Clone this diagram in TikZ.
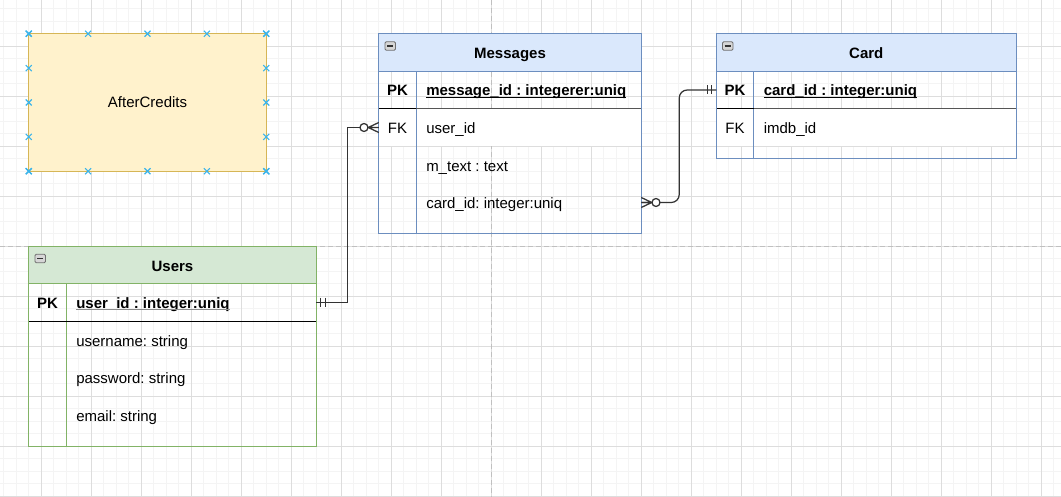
\documentclass[tikz,border=0pt]{standalone}
\usepackage{fontspec}
\setmainfont{Liberation Sans}
\usetikzlibrary{calc}
\frenchspacing

\definecolor{blueFill}{HTML}{DAE8FC}
\definecolor{blueLine}{HTML}{6C8EBF}
\definecolor{greenFill}{HTML}{D5E8D4}
\definecolor{greenLine}{HTML}{82B366}
\definecolor{yellowFill}{HTML}{FFF2CC}
\definecolor{yellowLine}{HTML}{D6B656}
\definecolor{gridMinor}{HTML}{F4F4F4}
\definecolor{gridMajor}{HTML}{DDDDDD}
\definecolor{pageLine}{HTML}{C0C0C0}
\definecolor{connColor}{HTML}{333333}
\definecolor{pkGray}{HTML}{555555}
\definecolor{pointBlue}{HTML}{3AB4EA}
\definecolor{iconFill}{HTML}{D6D6D6}
\definecolor{iconLine}{HTML}{707070}

% blue connection-point cross
\newcommand\cpx[1]{\draw[xpoint] (#1) ++(-3,-3) -- ++(6,6) (#1) ++(-3,3) -- ++(6,-6);}

\begin{document}
\begin{tikzpicture}[x=1pt,y=-1pt,
  txt/.style={font=\fontsize{15pt}{18pt}\selectfont, inner sep=0pt, outer sep=0pt},
  txtb/.style={font=\fontsize{15pt}{18pt}\selectfont\bfseries, inner sep=0pt, outer sep=0pt},
  rowbox/.style={rectangle, inner sep=0pt, outer sep=0pt, anchor=north west, minimum height=37.5pt},
  frame/.style={line width=1.25pt},
  title/.style={txtb, anchor=base},
  keytxt/.style={txt, anchor=base},
  pkkey/.style={txtb, anchor=base},
  fieldtxt/.style={txt, anchor=base west},
  pkfield/.style={txtb, anchor=base west},
  gminor/.style={draw=gridMinor, line width=1pt},
  gmajor/.style={draw=gridMajor, line width=1pt},
  pagebreak/.style={draw=pageLine, line width=1.25pt, dash pattern=on 5pt off 3pt},
  conn/.style={draw=connColor, line width=1.25pt},
  xpoint/.style={draw=pointBlue, line width=1.2pt},
  iconbox/.style={rectangle, draw=iconLine, fill=iconFill, rounded corners=1.2pt, line width=0.8pt,
    minimum width=10.5pt, minimum height=8.5pt, inner sep=0pt},
  iconbar/.style={draw=black!80, line width=1.3pt},
]
\useasboundingbox (0,0) rectangle (1061,497);
\fill[white] (0,0) rectangle (1061,497);

% background grid
\foreach \i in {0,...,84} \draw[gminor] ({3.75+12.5*\i},0) -- ({3.75+12.5*\i},497);
\foreach \i in {1,...,40} \draw[gminor] (0,{-3.75+12.5*\i}) -- (1061,{-3.75+12.5*\i});
\foreach \i in {0,...,20} \draw[gmajor] ({41.25+50*\i},0) -- ({41.25+50*\i},497);
\foreach \i in {0,...,9} \draw[gmajor] (0,{46.25+50*\i}) -- (1061,{46.25+50*\i});

% page breaks
\draw[pagebreak] (491.25,0) -- (491.25,497);
\draw[pagebreak] (0,246.25) -- (1061,246.25);

% ---------- AfterCredits ----------
\node[rectangle, draw=yellowLine, fill=yellowFill, line width=1.25pt, anchor=north west,
  minimum width=237.5pt, minimum height=137.5pt, inner sep=0pt, txt] (after) at (28.75,33.75) {AfterCredits};
\foreach \s in {0,0.25,0.5,0.75,1} {
  \cpx{$(after.north west)!\s!(after.north east)$}
  \cpx{$(after.south west)!\s!(after.south east)$}
  \cpx{$(after.north west)!\s!(after.south west)$}
  \cpx{$(after.north east)!\s!(after.south east)$}
}

% ---------- Messages ----------
\node[rowbox, minimum width=262.5pt, fill=blueFill] (msg-h) at (378.75,33.75) {};
\node[rowbox, minimum width=262.5pt] (msg-pk) at (378.75,71.25) {};
\node[rowbox, minimum width=262.5pt, fill=white] (msg-r1) at (378.75,108.75) {};
\node[rowbox, minimum width=262.5pt] (msg-r2) at (378.75,146.25) {};
\node[rowbox, minimum width=262.5pt] (msg-r3) at (378.75,183.75) {};
\node[rowbox, minimum width=262.5pt, minimum height=12.5pt] (msg-end) at (378.75,221.25) {};
\draw[frame, blueLine] (msg-h.south west) -- (msg-h.south east);
\draw[frame, blueLine] ([xshift=37.5pt]msg-pk.north west) -- ([xshift=37.5pt]msg-end.south west);
\draw[frame, pkGray] ([xshift=37.5pt]msg-pk.south west) -- (msg-pk.south east);
\draw[frame, black] (msg-pk.south west) -- ([xshift=37.5pt]msg-pk.south west);
\draw[frame, blueLine] (msg-h.north west) rectangle (msg-end.south east);
\node[iconbox] (msg-icon) at ($(msg-h.north west)+(11.5,12.25)$) {};
\draw[iconbar] ([xshift=2.6pt]msg-icon.west) -- ([xshift=-2.6pt]msg-icon.east);
\node[title] (msg-title) at ($(msg-h.center)+(0,6.3)$) {Messages};
\node[pkkey] (msg-k0) at ($(msg-pk.west)+(18.75,5.8)$) {PK};
\node[pkfield] (msg-f0) at ($(msg-pk.west)+(47.5,5.8)$) {message\_id : integerer:uniq};
\draw[line width=1pt] ([yshift=-1.6pt]msg-f0.base west) -- ([yshift=-1.6pt]msg-f0.base east);
\node[keytxt] (msg-k1) at ($(msg-r1.west)+(18.75,6.3)$) {FK};
\node[fieldtxt] (msg-f1) at ($(msg-r1.west)+(47.5,6.3)$) {user\_id};
\node[fieldtxt] (msg-f2) at ($(msg-r2.west)+(47.5,6.3)$) {m\_text : text};
\node[fieldtxt] (msg-f3) at ($(msg-r3.west)+(47.5,6.3)$) {card\_id: integer:uniq};

% ---------- Card ----------
\node[rowbox, minimum width=300pt, fill=blueFill] (card-h) at (716.25,33.75) {};
\node[rowbox, minimum width=300pt] (card-pk) at (716.25,71.25) {};
\node[rowbox, minimum width=300pt, fill=white] (card-r1) at (716.25,108.75) {};
\node[rowbox, minimum width=300pt, minimum height=12.5pt] (card-end) at (716.25,146.25) {};
\draw[frame, blueLine] (card-h.south west) -- (card-h.south east);
\draw[frame, blueLine] ([xshift=37.5pt]card-pk.north west) -- ([xshift=37.5pt]card-end.south west);
\draw[frame, pkGray] ([xshift=37.5pt]card-pk.south west) -- (card-pk.south east);
\draw[frame, black] (card-pk.south west) -- ([xshift=37.5pt]card-pk.south west);
\draw[frame, blueLine] (card-h.north west) rectangle (card-end.south east);
\node[iconbox] (card-icon) at ($(card-h.north west)+(11.5,12.25)$) {};
\draw[iconbar] ([xshift=2.6pt]card-icon.west) -- ([xshift=-2.6pt]card-icon.east);
\node[title] (card-title) at ($(card-h.center)+(0,6.3)$) {Card};
\node[pkkey] (card-k0) at ($(card-pk.west)+(18.75,5.8)$) {PK};
\node[pkfield] (card-f0) at ($(card-pk.west)+(47.5,5.8)$) {card\_id : integer:uniq};
\draw[line width=1pt] ([yshift=-1.6pt]card-f0.base west) -- ([yshift=-1.6pt]card-f0.base east);
\node[keytxt] (card-k1) at ($(card-r1.west)+(18.75,6.3)$) {FK};
\node[fieldtxt] (card-f1) at ($(card-r1.west)+(47.5,6.3)$) {imdb\_id};

% ---------- Users ----------
\node[rowbox, minimum width=287.5pt, fill=greenFill] (usr-h) at (28.75,246.25) {};
\node[rowbox, minimum width=287.5pt] (usr-pk) at (28.75,283.75) {};
\node[rowbox, minimum width=287.5pt] (usr-r1) at (28.75,321.25) {};
\node[rowbox, minimum width=287.5pt] (usr-r2) at (28.75,358.75) {};
\node[rowbox, minimum width=287.5pt] (usr-r3) at (28.75,396.25) {};
\node[rowbox, minimum width=287.5pt, minimum height=12.5pt] (usr-end) at (28.75,433.75) {};
\draw[frame, greenLine] (usr-h.south west) -- (usr-h.south east);
\draw[frame, greenLine] ([xshift=37.5pt]usr-pk.north west) -- ([xshift=37.5pt]usr-end.south west);
\draw[frame, black] (usr-pk.south west) -- (usr-pk.south east);
\draw[frame, greenLine] (usr-h.north west) rectangle (usr-end.south east);
\node[iconbox] (usr-icon) at ($(usr-h.north west)+(11.5,12.25)$) {};
\draw[iconbar] ([xshift=2.6pt]usr-icon.west) -- ([xshift=-2.6pt]usr-icon.east);
\node[title] (usr-title) at ($(usr-h.center)+(0,6.3)$) {Users};
\node[pkkey] (usr-k0) at ($(usr-pk.west)+(18.75,5.8)$) {PK};
\node[pkfield] (usr-f0) at ($(usr-pk.west)+(47.5,5.8)$) {user\_id : integer:uniq};
\draw[line width=1pt, black!45] ([yshift=-1.6pt]usr-f0.base west) -- ([yshift=-1.6pt]usr-f0.base east);
\node[fieldtxt] (usr-f1) at ($(usr-r1.west)+(47.5,6.3)$) {username: string};
\node[fieldtxt] (usr-f2) at ($(usr-r2.west)+(47.5,6.3)$) {password: string};
\node[fieldtxt] (usr-f3) at ($(usr-r3.west)+(47.5,6.3)$) {email: string};

% ---------- relations ----------
% Users.user_id (one) -- Messages.user_id (zero or many)
\draw[conn] (usr-pk.east) -- ++(31.5,0) |- (msg-r1.west);
\draw[conn] ([xshift=4.5pt]usr-pk.east) ++(0,-4.5) -- ++(0,9);
\draw[conn] ([xshift=9.5pt]usr-pk.east) ++(0,-4.5) -- ++(0,9);
\coordinate (foot1) at ([xshift=-10.5pt]msg-r1.west);
\draw[conn] (foot1) -- ++(10.5,-5) (foot1) -- ++(10.5,0) (foot1) -- ++(10.5,5);
\draw[conn, fill=white] ([xshift=-14.75pt]msg-r1.west) circle[radius=4pt];

% Messages.card_id (zero or many) -- Card.card_id (one)
\draw[conn, rounded corners=8pt] (msg-r3.east) -- ++(38,0) |- (card-pk.west);
\coordinate (foot2) at ([xshift=10.5pt]msg-r3.east);
\draw[conn] (foot2) -- ++(-10.5,-5) (foot2) -- ++(-10.5,0) (foot2) -- ++(-10.5,5);
\draw[conn, fill=white] ([xshift=14.75pt]msg-r3.east) circle[radius=4pt];
\draw[conn] ([xshift=-4.5pt]card-pk.west) ++(0,-4.5) -- ++(0,9);
\draw[conn] ([xshift=-9pt]card-pk.west) ++(0,-4.5) -- ++(0,9);
\end{tikzpicture}
\end{document}
